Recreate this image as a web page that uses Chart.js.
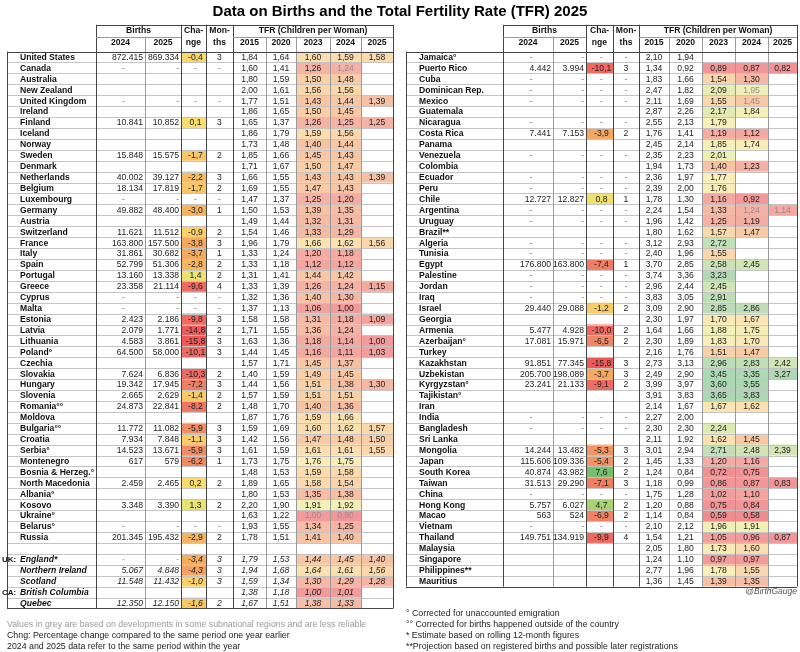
<!DOCTYPE html>
<html>
<head>
<meta charset="utf-8">
<script src="https://cdn.jsdelivr.net/npm/chart.js@4.4.1/dist/chart.umd.min.js"></script>
<style>
  body { margin: 0; background: #fff; }
  canvas { display: block; }
</style>
</head>
<body>
<canvas id="tbl" width="800" height="652"></canvas>
<script>
// --- DATA: left table (Americas/Europe) ---
const leftNames = ['United States','Canada','Australia','New Zealand','United Kingdom','Ireland','Finland','Iceland','Norway','Sweden','Denmark','Netherlands','Belgium','Luxembourg','Germany','Austria','Switzerland','France','Italy','Spain','Portugal','Greece','Cyprus','Malta','Estonia','Latvia','Lithuania','Poland°','Czechia','Slovakia','Hungary','Slovenia','Romania°°','Moldova','Bulgaria°°','Croatia','Serbia°','Montenegro','Bosnia & Herzeg.°','North Macedonia','Albania°','Kosovo','Ukraine°','Belarus°','Russia','','England*','Northern Ireland','Scotland','British Columbia','Quebec'];
const leftB24 = [872415,'-',null,null,'-',null,10841,null,null,15848,null,40002,18134,'-',49882,null,11621,163800,31861,52799,13160,23358,'-','-',2423,2079,4583,64500,null,7624,19342,2665,24873,null,11772,7934,14523,617,null,2459,null,3348,null,'-',201345,null,'-',5067,11548,null,12350];
const leftB25 = [869334,'-',null,null,'-',null,10852,null,null,15575,null,39127,17819,'-',48400,null,11512,157500,30682,51306,13338,21114,'-','-',2186,1771,3861,58000,null,6836,17945,2629,22841,null,11082,7848,13671,579,null,2465,null,3390,null,'-',195432,null,'-',4848,11432,null,12150];
const leftChg = [-0.4,'-',null,null,'-',null,0.1,null,null,-1.7,null,-2.2,-1.7,'-',-3.0,null,-0.9,-3.8,-3.7,-2.8,1.4,-9.6,'-','-',-9.8,-14.8,-15.8,-10.1,null,-10.3,-7.2,-1.4,-8.2,null,-5.9,-1.1,-5.9,-6.2,null,0.2,null,1.3,null,'-',-2.9,null,-3.4,-4.3,-1.0,null,-1.6];
const leftMon = [3,'-',null,null,'-',null,3,null,null,2,null,3,2,'-',1,null,2,3,1,2,2,4,'-','-',3,2,3,3,null,2,3,2,2,null,3,3,3,1,null,2,null,2,null,'-',2,null,3,3,3,null,2];
const leftT15 = [1.84,1.60,1.80,2.00,1.77,1.86,1.65,1.86,1.73,1.85,1.71,1.66,1.69,1.47,1.50,1.49,1.54,1.96,1.33,1.33,1.31,1.33,1.32,1.37,1.58,1.71,1.63,1.44,1.57,1.40,1.44,1.57,1.48,1.87,1.59,1.42,1.61,1.73,1.48,1.89,1.80,2.20,1.63,1.93,1.78,null,1.79,1.94,1.59,1.38,1.67];
const leftT20 = [1.64,1.41,1.59,1.61,1.51,1.65,1.37,1.79,1.48,1.66,1.67,1.55,1.55,1.37,1.53,1.44,1.46,1.79,1.24,1.18,1.41,1.39,1.36,1.13,1.58,1.55,1.36,1.45,1.71,1.59,1.56,1.59,1.70,1.76,1.69,1.56,1.59,1.75,1.53,1.65,1.53,1.90,1.22,1.55,1.51,null,1.53,1.68,1.34,1.18,1.51];
const leftT23 = [1.60,1.26,1.50,1.56,1.43,1.50,1.26,1.59,1.40,1.45,1.50,1.43,1.47,1.25,1.39,1.32,1.33,1.66,1.20,1.12,1.44,1.26,1.40,1.06,1.31,1.36,1.18,1.16,1.45,1.49,1.51,1.51,1.40,1.59,1.60,1.47,1.61,1.76,1.59,1.58,1.35,1.91,1.00,1.34,1.41,null,1.44,1.64,1.30,1.00,1.38];
const leftT24 = [1.59,1.24,1.48,1.56,1.44,1.45,1.25,1.56,1.44,1.43,1.47,1.43,1.43,1.20,1.35,1.31,1.29,1.62,1.18,1.12,1.42,1.24,1.30,1.00,1.18,1.24,1.14,1.11,1.37,1.45,1.38,1.51,1.36,1.66,1.62,1.48,1.61,1.75,1.58,1.54,1.38,1.92,0.90,1.25,1.40,null,1.45,1.61,1.29,1.01,1.33];
const leftT25 = [1.58,null,null,null,1.39,null,1.25,null,null,null,null,1.39,null,null,null,null,null,1.56,null,null,null,1.15,null,null,1.09,null,1.00,1.03,null,null,1.30,null,null,null,1.57,1.50,1.55,null,null,null,null,null,null,null,null,null,1.40,1.56,1.28,null,null];
const leftGroups = { 46: 'UK:', 49: 'CA:' };
const leftItalicFrom = 46;
const leftGrey = [[1, 't24'], [42, 't23'], [42, 't24']];

// --- DATA: right table (Americas/Africa/Asia) ---
const rightNames = ['Jamaica°','Puerto Rico','Cuba','Dominican Rep.','Mexico','Guatemala','Nicaragua','Costa Rica','Panama','Venezuela','Colombia','Ecuador','Peru','Chile','Argentina','Uruguay','Brazil**','Algeria','Tunisia','Egypt','Palestine','Jordan','Iraq','Israel','Georgia','Armenia','Azerbaijan°','Turkey','Kazakhstan','Uzbekistan','Kyrgyzstan°','Tajikistan°','Iran','India','Bangladesh','Sri Lanka','Mongolia','Japan','South Korea','Taiwan','China','Hong Kong','Macao','Vietnam','Thailand','Malaysia','Singapore','Philippines**','Mauritius'];
const rightB24 = ['-',4442,'-','-','-',null,'-',7441,null,'-',null,'-','-',12727,'-','-',null,'-','-',176800,'-','-','-',29440,null,5477,17081,null,91851,205700,23241,null,null,'-','-',null,14244,115606,40874,31513,'-',5757,563,'-',149751,null,null,null,null];
const rightB25 = ['-',3994,'-','-','-',null,'-',7153,null,'-',null,'-','-',12827,'-','-',null,'-','-',163800,'-','-','-',29088,null,4928,15971,null,77345,198089,21133,null,null,'-','-',null,13482,109336,43982,29290,'-',6027,524,'-',134919,null,null,null,null];
const rightChg = ['-',-10.1,'-','-','-',null,'-',-3.9,null,'-',null,'-','-',0.8,'-','-',null,'-','-',-7.4,'-','-','-',-1.2,null,-10.0,-6.5,null,-15.8,-3.7,-9.1,null,null,'-','-',null,-5.3,-5.4,7.6,-7.1,'-',4.7,-6.9,'-',-9.9,null,null,null,null];
const rightMon = ['-',3,'-','-','-',null,'-',2,null,'-',null,'-','-',1,'-','-',null,'-','-',1,'-','-','-',2,null,2,2,null,3,3,2,null,null,'-','-',null,3,2,2,3,'-',2,2,'-',4,null,null,null,null];
const rightT15 = [2.10,1.34,1.83,2.47,2.11,2.87,2.55,1.76,2.45,2.35,1.94,2.36,2.39,1.78,2.24,1.96,1.80,3.12,2.40,3.70,3.74,2.96,3.83,3.09,2.30,1.64,2.30,2.16,2.73,2.49,3.99,3.91,2.14,2.27,2.30,2.11,3.01,1.45,1.24,1.18,1.75,1.20,1.14,2.10,1.54,2.05,1.24,2.77,1.36];
const rightT20 = [1.94,0.92,1.66,1.82,1.69,2.26,2.13,1.41,2.14,2.23,1.73,1.97,2.00,1.30,1.54,1.42,1.62,2.93,1.96,2.85,3.36,2.44,3.05,2.90,1.97,1.66,1.89,1.76,3.13,2.90,3.97,3.83,1.67,2.00,2.30,1.92,2.94,1.33,0.84,0.99,1.28,0.88,0.84,2.12,1.21,1.80,1.10,1.96,1.45];
const rightT23 = [null,0.89,1.54,2.09,1.55,2.17,1.79,1.19,1.85,2.01,1.40,1.77,1.76,1.16,1.33,1.25,1.57,2.72,1.55,2.58,3.23,2.45,2.91,2.85,1.70,1.88,1.83,1.51,2.96,3.45,3.60,3.65,1.67,null,2.24,1.62,2.71,1.20,0.72,0.86,1.02,0.75,0.59,1.96,1.05,1.73,0.97,1.78,1.39];
const rightT24 = [null,0.87,1.30,1.95,1.45,1.84,null,1.12,1.74,null,1.23,null,null,0.92,1.24,1.19,1.47,null,null,2.45,null,null,null,2.86,1.67,1.75,1.70,1.47,2.83,3.35,3.55,3.83,1.62,null,null,1.45,2.48,1.16,0.75,0.87,1.10,0.84,0.58,1.91,0.96,1.60,0.97,1.55,1.35];
const rightT25 = [null,0.82,null,null,null,null,null,null,null,null,null,null,null,null,1.14,null,null,null,null,null,null,null,null,null,null,null,null,null,2.42,3.27,null,null,null,null,null,null,2.39,null,null,0.83,null,null,null,null,0.87,null,null,null,null];
const rightGrey = [[3, 't24'], [4, 't24'], [14, 't24'], [14, 't25']];

const colYears = ['2015', '2020', '2023', '2024', '2025'];
const birthYears = ['2024', '2025'];

// --- LAYOUT (column edges in x-scale units, rows in y-scale units) ---
const leftEdges = [7, 96, 145, 181, 206, 233, 266, 296, 330, 361, 393];
const rightEdges = [406, 503, 553, 586, 613, 639, 669, 702, 735, 768, 797];
const FONT = "'Liberation Sans', Arial, sans-serif";
const NAME_FONT = `bold 8.6px ${FONT}`;
const NUM_SIZE = '8.6px';

// --- COLOUR SCALES ---
function mix(stops, v) {
    if (v <= stops[0][0]) return `rgb(${stops[0][1].join(',')})`;
    for (let i = 1; i < stops.length; i++) {
        if (v <= stops[i][0]) {
            const [a, ca] = stops[i - 1], [b, cb] = stops[i];
            const t = (v - a) / (b - a);
            return `rgb(${ca.map((c, k) => Math.round(c + (cb[k] - c) * t)).join(',')})`;
        }
    }
    return `rgb(${stops[stops.length - 1][1].join(',')})`;
}
const tfrStops = [[0.6, [240, 140, 145]], [1.0, [243, 155, 155]], [1.25, [245, 178, 165]], [1.45, [248, 200, 165]], [1.6, [251, 222, 175]], [1.78, [249, 240, 185]], [2.0, [236, 240, 180]], [2.3, [218, 232, 180]], [2.7, [196, 224, 184]], [3.4, [172, 216, 180]]];
const chgStops = [[-16, [236, 88, 88]], [-9, [238, 108, 100]], [-6, [240, 140, 100]], [-3.5, [244, 172, 96]], [-1.5, [248, 200, 104]], [0, [250, 220, 110]], [1.5, [232, 228, 112]], [4.7, [170, 210, 112]], [7.6, [118, 190, 112]]];

const fmtBirth = v => typeof v === 'number' ? v.toLocaleString('de-DE') : v;
const fmtDec = (v, d) => typeof v === 'number' ? v.toFixed(d).replace('.', ',') : v;

// --- TABLE PLUGIN ---
function drawTable(chart, edges, t) {
    const ctx = chart.ctx;
    const sx = chart.scales.x, sy = chart.scales.y;
    const X = edges.map(e => sx.getPixelForValue(e));
    const n = t.names.length;
    const top = sy.getPixelForValue(-2.95), mid = sy.getPixelForValue(-1.87);
    const bodyTop = sy.getPixelForValue(-0.5), bodyBot = sy.getPixelForValue(n - 0.5);
    const rowTop = r => sy.getPixelForValue(r - 0.5);
    const rowBot = r => sy.getPixelForValue(r + 0.5);
    const rowMid = r => sy.getPixelForValue(r);

    // cell fills
    const tfrCols = [t.t23, t.t24, t.t25];
    for (let r = 0; r < n; r++) {
        const c = t.chg[r];
        if (typeof c === 'number') {
            ctx.fillStyle = mix(chgStops, c);
            ctx.fillRect(X[3], rowTop(r), X[4] - X[3], rowBot(r) - rowTop(r));
        }
        tfrCols.forEach((arr, k) => {
            const v = arr[r];
            if (v == null) return;
            ctx.fillStyle = mix(tfrStops, v);
            ctx.fillRect(X[7 + k], rowTop(r), X[8 + k] - X[7 + k], rowBot(r) - rowTop(r));
        });
    }

    // grid lines
    ctx.lineWidth = 1;
    ctx.strokeStyle = '#c4c4c4';
    for (let r = 0; r <= n; r++) {
        const yy = Math.round(rowTop(r)) + 0.5;
        ctx.beginPath(); ctx.moveTo(X[0], yy); ctx.lineTo(X[10], yy); ctx.stroke();
    }
    ctx.strokeStyle = '#9a9a9a';
    const vline = (xx, y0, y1) => { xx = Math.round(xx) + 0.5; ctx.beginPath(); ctx.moveTo(xx, y0); ctx.lineTo(xx, y1); ctx.stroke(); };
    [2, 6, 7, 8, 9].forEach(i => vline(X[i], mid, bodyBot));
    ctx.strokeStyle = '#444';
    [1, 3, 4, 5].forEach(i => vline(X[i], top, bodyBot));
    vline(X[10], top, bodyBot);
    vline(X[0], bodyTop, bodyBot);
    const hline = (yy, x0, x1) => { yy = Math.round(yy) + 0.5; ctx.beginPath(); ctx.moveTo(x0, yy); ctx.lineTo(x1, yy); ctx.stroke(); };
    hline(top, X[1], X[10]);
    hline(bodyTop, X[0], X[10]);
    hline(bodyBot, X[0], X[10]);
    ctx.strokeStyle = '#9a9a9a';
    hline(mid, X[1], X[3]);
    hline(mid, X[5], X[10]);

    // headers
    ctx.fillStyle = '#111';
    ctx.font = NAME_FONT;
    ctx.textAlign = 'center';
    ctx.textBaseline = 'middle';
    const h1 = sy.getPixelForValue(-2.42), h2 = sy.getPixelForValue(-1.35);
    ctx.fillText('Births', (X[1] + X[3]) / 2, h1);
    ctx.fillText('Cha-', (X[3] + X[4]) / 2, h1);
    ctx.fillText('nge', (X[3] + X[4]) / 2, h2);
    ctx.fillText('Mon-', (X[4] + X[5]) / 2, h1);
    ctx.fillText('ths', (X[4] + X[5]) / 2, h2);
    ctx.fillText('TFR (Children per Woman)', (X[5] + X[10]) / 2, h1);
    birthYears.forEach((y, i) => ctx.fillText(y, (X[1 + i] + X[2 + i]) / 2, h2));
    colYears.forEach((y, i) => ctx.fillText(y, (X[5 + i] + X[6 + i]) / 2, h2));

    // body text
    const cols = [t.t15, t.t20, t.t23, t.t24, t.t25];
    const keys = ['t15', 't20', 't23', 't24', 't25'];
    for (let r = 0; r < n; r++) {
        const ym = rowMid(r) + 0.5;
        const italic = t.italicFrom != null && r >= t.italicFrom;
        ctx.textAlign = 'left';
        ctx.fillStyle = '#111';
        ctx.font = (italic ? 'italic ' : '') + NAME_FONT;
        ctx.fillText(t.names[r], X[0] + 13, ym);
        if (t.groups && t.groups[r]) {
            ctx.font = `bold 8px ${FONT}`;
            ctx.fillText(t.groups[r], X[0] - 5, ym);
        }
        const it = italic ? 'italic ' : '';
        ctx.font = `${it}${NUM_SIZE} ${FONT}`;
        const dashCol = '#777';
        // births
        [t.b24, t.b25].forEach((arr, k) => {
            const v = arr[r];
            if (v == null) return;
            ctx.fillStyle = v === '-' ? dashCol : '#222';
            if (v === '-' && k === 0) { ctx.textAlign = 'center'; ctx.fillText('-', (X[1] + X[2]) / 2 + 3, ym); }
            else { ctx.textAlign = 'right'; ctx.fillText(fmtBirth(v), X[2 + k] - 2, ym); }
        });
        ctx.textAlign = 'center';
        if (t.chg[r] != null) {
            ctx.fillStyle = t.chg[r] === '-' ? dashCol : '#222';
            ctx.fillText(fmtDec(t.chg[r], 1), (X[3] + X[4]) / 2 + 2, ym);
        }
        if (t.mon[r] != null) {
            ctx.fillStyle = t.mon[r] === '-' ? dashCol : '#222';
            ctx.fillText(String(t.mon[r]), (X[4] + X[5]) / 2, ym);
        }
        cols.forEach((arr, k) => {
            const v = arr[r];
            if (v == null) return;
            const grey = t.grey.some(g => g[0] === r && g[1] === keys[k]);
            ctx.fillStyle = grey ? '#9a8a8a' : '#222';
            ctx.fillText(fmtDec(v, 2), (X[5 + k] + X[6 + k]) / 2, ym);
        });
    }
}

const tablePlugin = {
    id: 'tablePlugin',
    afterDraw(chart) {
        const ctx = chart.ctx;
        const sx = chart.scales.x, sy = chart.scales.y;
        ctx.save();
        ctx.fillStyle = '#000';
        ctx.font = `bold 15px ${FONT}`;
        ctx.textAlign = 'center';
        ctx.textBaseline = 'middle';
        ctx.fillText('Data on Births and the Total Fertility Rate (TFR) 2025', sx.getPixelForValue(400), sy.getPixelForValue(-4.1));

        drawTable(chart, leftEdges, { names: leftNames, b24: leftB24, b25: leftB25, chg: leftChg, mon: leftMon,
            t15: leftT15, t20: leftT20, t23: leftT23, t24: leftT24, t25: leftT25, groups: leftGroups, italicFrom: leftItalicFrom, grey: leftGrey });
        drawTable(chart, rightEdges, { names: rightNames, b24: rightB24, b25: rightB25, chg: rightChg, mon: rightMon,
            t15: rightT15, t20: rightT20, t23: rightT23, t24: rightT24, t25: rightT25, grey: rightGrey });

        // footnotes
        ctx.textAlign = 'left';
        ctx.font = `8.8px ${FONT}`;
        const leftNotes = [['Values in grey are based on developments in some subnational regions and are less reliable', '#999'],
            ['Chng: Percentage change compared to the same period one year earlier', '#222'],
            ['2024 and 2025 data refer to the same period within the year', '#222']];
        leftNotes.forEach((nt, i) => { ctx.fillStyle = nt[1]; ctx.fillText(nt[0], sx.getPixelForValue(7), sy.getPixelForValue(52.0 + i)); });
        const rightNotes = ['° Corrected for unaccounted emigration', '°° Corrected for births happened outside of the country',
            '* Estimate based on rolling 12-month figures', '**Projection based on registered births and possible later registrations'];
        ctx.fillStyle = '#222';
        rightNotes.forEach((nt, i) => ctx.fillText(nt, sx.getPixelForValue(406), sy.getPixelForValue(51.0 + i)));
        ctx.textAlign = 'right';
        ctx.fillStyle = '#555';
        ctx.font = `italic 8.5px ${FONT}`;
        ctx.fillText('@BirthGauge', sx.getPixelForValue(797), sy.getPixelForValue(49.0));
        ctx.restore();
    }
};

new Chart(document.getElementById('tbl'), {
    type: 'scatter',
    data: { datasets: [{ data: [], pointRadius: 0 }] },
    options: {
        responsive: false,
        animation: false,
        layout: { padding: 0 },
        plugins: { legend: { display: false }, tooltip: { enabled: false } },
        scales: {
            x: { type: 'linear', min: 0, max: 800, display: false },
            y: { type: 'linear', min: -5.22, max: 54.49, reverse: true, display: false }
        }
    },
    plugins: [tablePlugin]
});
</script>
</body>
</html>
